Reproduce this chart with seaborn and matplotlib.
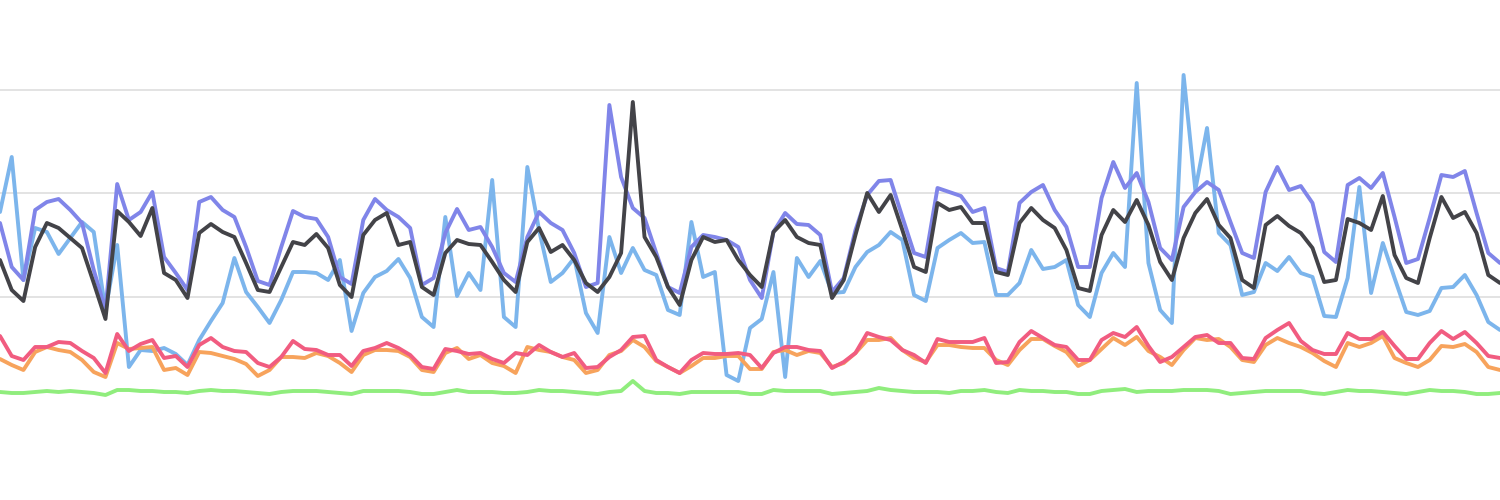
import matplotlib
matplotlib.use("Agg")
import matplotlib.pyplot as plt
import seaborn as sns
import pandas as pd

# values in arbitrary units (grid lines at 103.5, 207, 310.5)
black = [140,110,99,153,177,172,162,152,117,81,189,178,164,192,127,120,102,167,176,168,163,137,110,108,133,158,155,166,152,115,103,165,180,187,155,158,113,105,147,160,156,155,138,
         120,108,158,172,148,155,140,117,108,123,147,298,163,143,113,95,140,163,158,160,140,125,113,168,180,163,157,155,102,120,165,207,188,205,170,133,128,197,190,193,177,177,128,
         125,177,192,180,172,150,112,109,165,190,178,200,175,138,120,162,187,201,175,162,120,112,175,184,174,167,152,118,120,181,177,170,204,145,122,117,162,203,182,188,167,125,117]
purple = [177,133,120,190,198,201,190,177,130,90,216,180,188,208,143,127,110,198,203,190,183,153,119,115,153,189,183,181,163,123,116,180,201,190,183,172,115,122,167,191,170,173,153,
          127,118,163,188,177,170,147,113,117,295,223,192,182,147,113,107,153,165,163,160,153,120,102,168,187,176,175,165,108,122,170,205,219,220,183,147,143,212,208,204,188,192,132,
          128,197,208,215,190,173,133,133,202,238,212,227,198,152,140,193,208,218,210,178,147,142,208,233,210,214,197,148,138,215,222,212,227,183,137,141,182,225,223,229,187,147,137]
lightblue = [188,243,120,172,168,146,162,178,168,90,155,33,50,49,52,46,35,60,79,97,142,108,93,77,100,128,128,127,120,140,69,107,123,129,141,122,83,73,183,104,127,110,220,
             83,73,233,170,118,127,142,87,67,163,127,152,130,125,90,85,178,123,128,25,19,72,81,128,23,142,123,139,107,108,133,148,155,168,160,105,99,152,160,167,157,158,105,
             105,117,150,131,133,140,95,83,127,147,133,317,137,90,77,325,210,272,167,155,105,108,137,129,143,127,123,84,83,122,213,107,157,122,88,85,89,112,113,125,105,78,70]
red = [64,44,40,53,53,58,57,49,42,27,66,49,56,60,42,44,33,55,62,53,49,48,37,33,43,59,51,50,45,45,34,49,52,57,52,45,33,31,51,49,46,47,41,
       37,47,45,55,48,43,47,32,33,43,50,63,64,40,33,27,40,47,46,46,47,45,32,47,53,53,50,49,32,38,47,67,63,60,50,45,37,61,58,58,58,62,37,
       38,58,69,62,55,53,40,40,60,67,63,73,54,38,43,53,63,65,57,57,42,41,62,70,77,59,50,46,46,67,61,61,68,54,41,41,57,69,61,68,57,44,42]
orange = [41,35,30,48,53,50,48,40,28,23,57,51,52,53,30,32,25,48,47,44,41,36,24,30,43,43,42,47,44,37,28,45,50,50,49,43,30,28,47,52,41,45,37,
          34,27,53,50,48,43,40,27,30,45,49,60,53,39,33,27,34,42,42,44,44,31,31,48,50,45,49,47,33,37,47,60,60,62,50,42,38,55,55,53,52,52,40,
          35,50,61,61,54,48,34,40,51,62,55,63,49,43,35,50,62,60,61,53,40,38,55,62,57,53,47,39,33,57,53,57,64,42,37,33,40,54,53,56,48,33,30]
green = [8,7,7,8,9,8,9,8,7,5,10,10,9,9,8,8,7,9,10,9,9,8,7,6,8,9,9,9,8,7,6,9,9,9,9,8,6,6,8,10,8,8,8,
         7,7,8,10,9,9,8,7,6,8,9,19,9,7,7,6,8,8,8,8,8,6,6,10,9,9,9,9,6,7,8,9,12,10,9,8,8,8,7,9,9,10,8,
         7,10,9,9,8,8,6,6,9,10,11,8,9,9,9,10,10,10,9,6,7,8,9,9,9,9,7,6,8,10,9,9,8,7,6,8,10,9,9,8,6,6,7]

series = [("lightblue", lightblue, "#7cb5ec"), ("purple", purple, "#8085e9"),
          ("black", black, "#434348"), ("orange", orange, "#f7a35c"),
          ("red", red, "#f15c80"), ("green", green, "#90ed7d")]
grid_vals = [103.5, 207, 310.5]

sns.set_theme(style="white")
fig = plt.figure(figsize=(15, 5), dpi=100)
ax = fig.add_axes([0, 0, 1, 1])
for g in grid_vals:
    ax.axhline(g, color="#e0e0e0", lw=1.3, zorder=0)
for name, vals, col in series:
    df = pd.DataFrame({"x": range(len(vals)), "y": vals})
    sns.lineplot(data=df, x="x", y="y", ax=ax, color=col, lw=2.8, legend=False)
ax.set_xlim(0, len(black) - 1)
ax.set_ylim(-100, 400)
ax.axis("off")
fig.savefig("out.png", dpi=100)
